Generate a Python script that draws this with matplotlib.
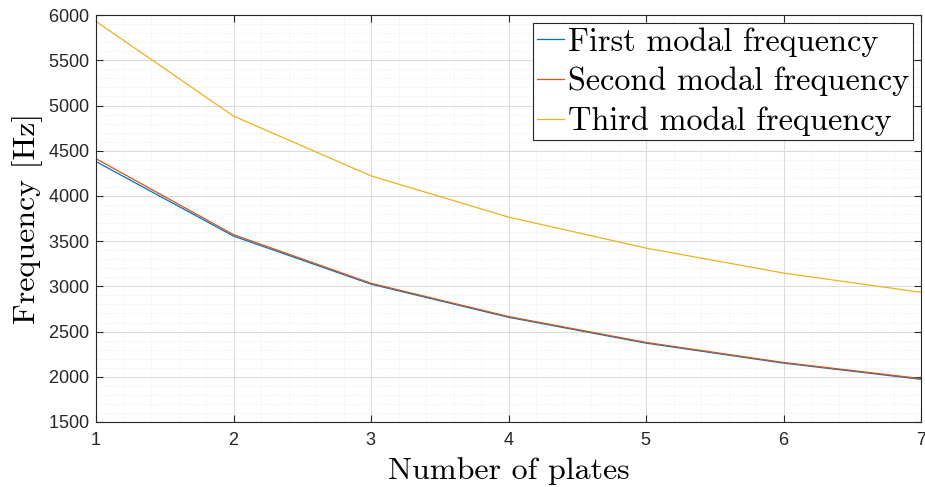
import matplotlib
matplotlib.use("Agg")
import matplotlib.pyplot as plt
from matplotlib.ticker import MultipleLocator

plates = [1, 2, 3, 4, 5, 6, 7]
first_freq = [4380, 3556, 3024, 2658, 2372, 2151, 1972]
second_freq = [4412, 3572, 3034, 2666, 2380, 2158, 1980]
third_freq = [5930, 4883, 4222, 3766, 3423, 3147, 2934]
labels = ["First modal frequency", "Second modal frequency", "Third modal frequency"]
colors = ["#0072BD", "#D95319", "#EDB120"]

plt.rcParams['axes.formatter.use_mathtext'] = True
fig = plt.figure(figsize=(9.25, 4.87), dpi=100)
ax = fig.add_axes([0.1038, 0.1335, 0.892, 0.8355])

for ys, lab, c in zip([first_freq, second_freq, third_freq], labels, colors):
    ax.plot(plates, ys, color=c, lw=0.9, label=lab)

ax.set_xlim(1, 7)
ax.set_ylim(1500, 6000)
ax.xaxis.set_major_locator(MultipleLocator(1))
ax.xaxis.set_minor_locator(MultipleLocator(0.2))
ax.yaxis.set_major_locator(MultipleLocator(500))
ax.yaxis.set_minor_locator(MultipleLocator(100))
ax.grid(which='major', color='#dcdcdc', lw=0.8, ls='-')
ax.grid(which='minor', color='#e4e4e4', lw=0.6, ls=(0, (1, 2)))
ax.set_axisbelow(True)

axc = '#262626'
for s in ax.spines.values():
    s.set_color(axc)
    s.set_linewidth(0.8)
ax.tick_params(which='major', direction='in', length=5, width=0.8, color=axc,
               top=True, right=True, labelsize=13, labelcolor=axc)
ax.tick_params(axis='x', which='major', pad=7)
ax.tick_params(axis='y', which='major', pad=5)
ax.tick_params(which='minor', length=0, top=True, right=True)
for t in ax.get_xticklabels() + ax.get_yticklabels():
    t.set_fontfamily('Liberation Sans')

ax.set_xlabel("Number of plates", fontfamily='cmr10', fontsize=23, labelpad=6)
ax.set_ylabel("Frequency [Hz]", fontfamily='cmr10', fontsize=23, labelpad=3)

leg = ax.legend(loc='upper right', prop={'family': 'cmr10', 'size': 23.2},
                frameon=True, fancybox=False, edgecolor=axc, framealpha=1,
                handlelength=0.85, handletextpad=0.12, borderaxespad=0.25,
                labelspacing=0.32, borderpad=0.12)
leg.get_frame().set_linewidth(0.8)

fig.savefig("out.png", dpi=100)
